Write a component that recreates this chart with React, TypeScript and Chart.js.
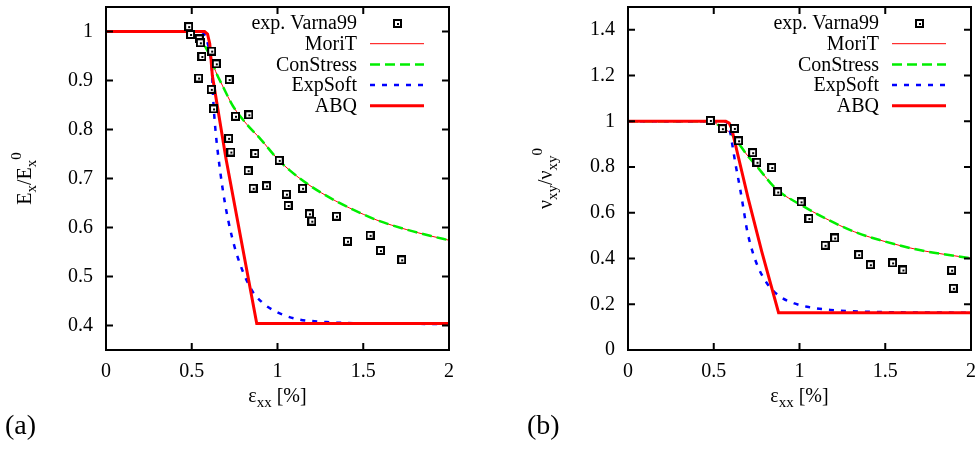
import React, { useEffect, useRef } from "react";
import { Chart, registerables } from "chart.js";

Chart.register(...registerables);

// ---------- shared axis data ----------
const xTicks = [0, 0.5, 1, 1.5, 2];
const yTicksA = [0.4, 0.5, 0.6, 0.7, 0.8, 0.9, 1];
const yTicksB = [0, 0.2, 0.4, 0.6, 0.8, 1, 1.2, 1.4];
const seriesLabels = ["exp. Varna99", "MoriT", "ConStress", "ExpSoft", "ABQ"];

// ---------- panel (a): Ex/Ex0 ----------
const expA_x = [0.482, 0.493, 0.544, 0.55, 0.559, 0.54, 0.616, 0.643, 0.614, 0.627, 0.718, 0.755, 0.833, 0.715, 0.728, 0.868, 1.01, 0.829, 0.858, 0.936, 1.052, 1.062, 1.146, 1.186, 1.2, 1.344, 1.408, 1.54, 1.6, 1.724];
const expA_y = [1.01, 0.994, 0.985, 0.977, 0.949, 0.905, 0.96, 0.934, 0.882, 0.842, 0.902, 0.827, 0.83, 0.782, 0.754, 0.751, 0.737, 0.716, 0.68, 0.685, 0.668, 0.645, 0.68, 0.628, 0.613, 0.623, 0.572, 0.584, 0.553, 0.534];

const moriA_x = [0, 0.48, 0.52, 0.55, 0.58, 0.61, 0.64, 0.68, 0.74, 0.82, 0.9, 1.0, 1.07, 1.17, 1.34, 1.5, 1.58, 1.75, 1.89, 2];
const moriA_y = [1, 1, 0.992, 0.983, 0.968, 0.947, 0.918, 0.889, 0.848, 0.811, 0.781, 0.74, 0.717, 0.69, 0.654, 0.627, 0.615, 0.596, 0.583, 0.574];

const conA_x = [0, 0.48, 0.52, 0.55, 0.58, 0.61, 0.64, 0.68, 0.74, 0.82, 0.9, 1.0, 1.07, 1.17, 1.34, 1.5, 1.58, 1.75, 1.89, 2];
const conA_y = [1, 1, 0.992, 0.983, 0.968, 0.947, 0.918, 0.889, 0.848, 0.811, 0.781, 0.74, 0.717, 0.69, 0.654, 0.627, 0.615, 0.596, 0.583, 0.574];

const expSoftA_x = [0, 0.55, 0.58, 0.6, 0.616, 0.626, 0.638, 0.665, 0.694, 0.735, 0.781, 0.85, 0.908, 0.976, 1.054, 1.131, 1.287, 1.403, 2];
const expSoftA_y = [1, 1, 0.99, 0.965, 0.93, 0.856, 0.8, 0.717, 0.649, 0.58, 0.526, 0.472, 0.448, 0.431, 0.419, 0.412, 0.407, 0.405, 0.403];

const abqA_x = [0, 0.575, 0.592, 0.605, 0.62, 0.7, 0.879, 2];
const abqA_y = [1, 1, 0.995, 0.975, 0.91, 0.74, 0.404, 0.404];

// ---------- panel (b): nu_xy/nu_xy0 ----------
const expB_x = [0.48, 0.55, 0.62, 0.645, 0.727, 0.752, 0.838, 0.873, 1.009, 1.055, 1.149, 1.205, 1.345, 1.413, 1.543, 1.603, 1.887, 1.897];
const expB_y = [1.004, 0.968, 0.969, 0.915, 0.863, 0.821, 0.798, 0.691, 0.648, 0.575, 0.458, 0.49, 0.417, 0.373, 0.381, 0.35, 0.349, 0.27];

const moriB_x = [0, 0.48, 0.54, 0.6, 0.64, 0.69, 0.75, 0.87, 1.0, 1.15, 1.32, 1.5, 1.7, 2];
const moriB_y = [1, 1, 0.977, 0.946, 0.909, 0.857, 0.804, 0.7, 0.638, 0.576, 0.517, 0.474, 0.437, 0.401];

const conB_x = [0, 0.48, 0.54, 0.6, 0.64, 0.69, 0.75, 0.87, 1.0, 1.15, 1.32, 1.5, 1.7, 2];
const conB_y = [1, 1, 0.977, 0.946, 0.909, 0.857, 0.804, 0.7, 0.638, 0.576, 0.517, 0.474, 0.437, 0.401];

const expSoftB_x = [0, 0.56, 0.585, 0.597, 0.612, 0.626, 0.655, 0.674, 0.694, 0.742, 0.81, 0.888, 0.966, 1.044, 1.18, 1.4, 2];
const expSoftB_y = [1, 1, 0.985, 0.95, 0.88, 0.817, 0.7, 0.615, 0.525, 0.394, 0.292, 0.233, 0.205, 0.189, 0.175, 0.167, 0.163];

const abqB_x = [0, 0.57, 0.59, 0.605, 0.618, 0.7, 0.78, 0.878, 2];
const abqB_y = [1, 1, 0.992, 0.968, 0.925, 0.665, 0.43, 0.163, 0.163];

// ---------- helpers ----------
const FONT = '"Liberation Serif", "Times New Roman", serif';

function zip(xs: number[], ys: number[]) {
  return xs.map((x, i) => ({ x, y: ys[i] }));
}

function fmt(v: number) {
  return String(parseFloat(Number(v).toFixed(2)));
}

function makeMarker() {
  const c = document.createElement("canvas");
  c.width = 9;
  c.height = 9;
  const g = c.getContext("2d")!;
  g.fillStyle = "#000";
  g.fillRect(0, 0, 9, 9);
  g.fillStyle = "#fff";
  g.fillRect(2, 2, 5, 5);
  g.fillStyle = "#000";
  g.fillRect(4, 4, 2, 2);
  return c;
}

type Piece = { t: string; s?: "sub" | "sup" };

function drawRich(ctx: CanvasRenderingContext2D, pieces: Piece[], x: number, y: number, rotate: boolean) {
  ctx.save();
  ctx.translate(x, y);
  if (rotate) ctx.rotate(-Math.PI / 2);
  ctx.fillStyle = "#000";
  ctx.textBaseline = "alphabetic";
  ctx.textAlign = "left";
  const fontFor = (p: Piece) => (p.s ? `15px ${FONT}` : `20px ${FONT}`);
  let total = 0;
  const widths = pieces.map((p) => {
    ctx.font = fontFor(p);
    const w = ctx.measureText(p.t).width;
    total += w;
    return w;
  });
  let cx = -total / 2;
  pieces.forEach((p, i) => {
    ctx.font = fontFor(p);
    const dy = p.s === "sub" ? 5 : p.s === "sup" ? -10 : 0;
    ctx.fillText(p.t, cx, dy);
    cx += widths[i];
  });
  ctx.restore();
}

type DecorCfg = {
  yTicks: number[];
  yTitle: Piece[];
  yTitleX: number;
  xTitle: Piece[];
  xTitleY: number;
  panelLabel: string;
  panelLabelX: number;
  marker: HTMLCanvasElement;
};

function decorPlugin(cfg: DecorCfg) {
  return {
    id: "decor",
    afterDraw(chart: any) {
      const ctx: CanvasRenderingContext2D = chart.ctx;
      const a = chart.chartArea;
      const xs = chart.scales.x;
      const ys = chart.scales.y;
      ctx.save();
      // frame
      ctx.strokeStyle = "#000";
      ctx.lineWidth = 2;
      ctx.setLineDash([]);
      ctx.strokeRect(a.left, a.top, a.right - a.left, a.bottom - a.top);
      // inward ticks (mirrored)
      ctx.beginPath();
      const tl = 7;
      xTicks.forEach((v) => {
        const p = xs.getPixelForValue(v);
        ctx.moveTo(p, a.bottom);
        ctx.lineTo(p, a.bottom - tl);
        ctx.moveTo(p, a.top);
        ctx.lineTo(p, a.top + tl);
      });
      cfg.yTicks.forEach((v) => {
        const p = ys.getPixelForValue(v);
        ctx.moveTo(a.left, p);
        ctx.lineTo(a.left + tl, p);
        ctx.moveTo(a.right, p);
        ctx.lineTo(a.right - tl, p);
      });
      ctx.stroke();

      // legend (right-aligned text, sample on the right)
      const textRight = a.right - 92;
      const sampleL = a.right - 79;
      const sampleR = a.right - 25;
      ctx.font = `20px ${FONT}`;
      ctx.textAlign = "right";
      ctx.textBaseline = "middle";
      chart.data.datasets.forEach((ds: any, i: number) => {
        const yy = a.top + 16 + i * 20.7;
        ctx.fillStyle = "#000";
        ctx.fillText(ds.label, textRight, yy + 1);
        if (ds.showLine === false) {
          const m = cfg.marker;
          ctx.drawImage(m, Math.round((sampleL + sampleR) / 2 - m.width / 2), Math.round(yy - m.height / 2));
        } else {
          ctx.save();
          ctx.strokeStyle = ds.borderColor;
          ctx.lineWidth = ds.borderWidth;
          ctx.setLineDash(ds.borderDash || []);
          ctx.beginPath();
          ctx.moveTo(sampleL, yy);
          ctx.lineTo(sampleR, yy);
          ctx.stroke();
          ctx.restore();
        }
      });

      // axis titles
      drawRich(ctx, cfg.xTitle, (a.left + a.right) / 2, cfg.xTitleY, false);
      drawRich(ctx, cfg.yTitle, cfg.yTitleX, (a.top + a.bottom) / 2, true);

      // panel label
      ctx.font = `28px ${FONT}`;
      ctx.textAlign = "left";
      ctx.textBaseline = "alphabetic";
      ctx.fillStyle = "#000";
      ctx.fillText(cfg.panelLabel, cfg.panelLabelX, 434);
      ctx.restore();
    },
  };
}

type PanelSpec = {
  exp: { x: number; y: number }[];
  mori: { x: number; y: number }[];
  con: { x: number; y: number }[];
  soft: { x: number; y: number }[];
  abq: { x: number; y: number }[];
  yMin: number;
  yMax: number;
  yTicks: number[];
  yAxisW: number;
  padRight: number;
  decor: DecorCfg;
};

function buildConfig(p: PanelSpec, marker: HTMLCanvasElement): any {
  const tickFont = { family: FONT, size: 20 };
  return {
    type: "scatter",
    data: {
      datasets: [
        { label: seriesLabels[0], data: p.exp, showLine: false, pointStyle: marker, pointRadius: 5, order: 0 },
        { label: seriesLabels[1], data: p.mori, showLine: true, borderColor: "#ff0000", borderWidth: 1, pointRadius: 0, cubicInterpolationMode: "monotone", order: 4 },
        { label: seriesLabels[2], data: p.con, showLine: true, borderColor: "#00ee00", borderWidth: 2.5, borderDash: [10, 5], pointRadius: 0, cubicInterpolationMode: "monotone", order: 3 },
        { label: seriesLabels[3], data: p.soft, showLine: true, borderColor: "#0000ff", borderWidth: 2.5, borderDash: [5, 7], pointRadius: 0, cubicInterpolationMode: "monotone", order: 2 },
        { label: seriesLabels[4], data: p.abq, showLine: true, borderColor: "#ff0000", borderWidth: 3, pointRadius: 0, order: 1 },
      ],
    },
    options: {
      animation: false,
      responsive: false,
      events: [],
      layout: { padding: { left: 0, right: p.padRight, top: 7, bottom: 0 } },
      plugins: { legend: { display: false }, tooltip: { enabled: false } },
      scales: {
        x: {
          type: "linear",
          min: 0,
          max: 2,
          afterBuildTicks: (s: any) => {
            s.ticks = xTicks.map((v) => ({ value: v }));
          },
          afterFit: (s: any) => {
            s.height = 99;
            s.paddingLeft = 0;
            s.paddingRight = 0;
            s.paddingTop = 0;
            s.paddingBottom = 0;
          },
          grid: { display: false, drawTicks: false },
          border: { display: false },
          ticks: { padding: 10, font: tickFont, color: "#000", maxRotation: 0, autoSkip: false, callback: (v: number) => fmt(v) },
        },
        y: {
          type: "linear",
          min: p.yMin,
          max: p.yMax,
          afterBuildTicks: (s: any) => {
            s.ticks = p.yTicks.map((v) => ({ value: v }));
          },
          afterFit: (s: any) => {
            s.width = p.yAxisW;
            s.paddingLeft = 0;
            s.paddingRight = 0;
            s.paddingTop = 0;
            s.paddingBottom = 0;
          },
          grid: { display: false, drawTicks: false },
          border: { display: false },
          ticks: { padding: 13, font: tickFont, color: "#000", autoSkip: false, callback: (v: number) => fmt(v) },
        },
      },
    },
    plugins: [decorPlugin(p.decor)],
  };
}

function Panel({ spec, width, left }: { spec: (m: HTMLCanvasElement) => PanelSpec; width: number; left: number }) {
  const ref = useRef<HTMLCanvasElement>(null);
  useEffect(() => {
    if (!ref.current) return;
    const marker = makeMarker();
    const chart = new Chart(ref.current, buildConfig(spec(marker), marker));
    return () => chart.destroy();
  }, []);
  return (
    <canvas
      ref={ref}
      width={width}
      height={449}
      style={{ position: "absolute", left, top: 0, width, height: 449, display: "block" }}
    />
  );
}

const specA = (marker: HTMLCanvasElement): PanelSpec => ({
  exp: zip(expA_x, expA_y),
  mori: zip(moriA_x, moriA_y),
  con: zip(conA_x, conA_y),
  soft: zip(expSoftA_x, expSoftA_y),
  abq: zip(abqA_x, abqA_y),
  yMin: 0.35,
  yMax: 1.05,
  yTicks: yTicksA,
  yAxisW: 106,
  padRight: 41,
  decor: {
    yTicks: yTicksA,
    yTitle: [{ t: "E" }, { t: "x", s: "sub" }, { t: "/E" }, { t: "x", s: "sub" }, { t: "0", s: "sup" }],
    yTitleX: 31,
    xTitle: [{ t: "ε" }, { t: "xx", s: "sub" }, { t: " [%]" }],
    xTitleY: 402,
    panelLabel: "(a)",
    panelLabelX: 5,
    marker,
  },
});

const specB = (marker: HTMLCanvasElement): PanelSpec => ({
  exp: zip(expB_x, expB_y),
  mori: zip(moriB_x, moriB_y),
  con: zip(conB_x, conB_y),
  soft: zip(expSoftB_x, expSoftB_y),
  abq: zip(abqB_x, abqB_y),
  yMin: 0,
  yMax: 1.5,
  yTicks: yTicksB,
  yAxisW: 138,
  padRight: 6,
  decor: {
    yTicks: yTicksB,
    yTitle: [{ t: "ν" }, { t: "xy", s: "sub" }, { t: "/ν" }, { t: "xy", s: "sub" }, { t: "0", s: "sup" }],
    yTitleX: 62,
    xTitle: [{ t: "ε" }, { t: "xx", s: "sub" }, { t: " [%]" }],
    xTitleY: 402,
    panelLabel: "(b)",
    panelLabelX: 37,
    marker,
  },
});

export default function App() {
  return (
    <div style={{ position: "fixed", left: 0, top: 0, width: 977, height: 449, background: "#fff", overflow: "hidden" }}>
      <Panel spec={specA} width={490} left={0} />
      <Panel spec={specB} width={487} left={490} />
    </div>
  );
}
